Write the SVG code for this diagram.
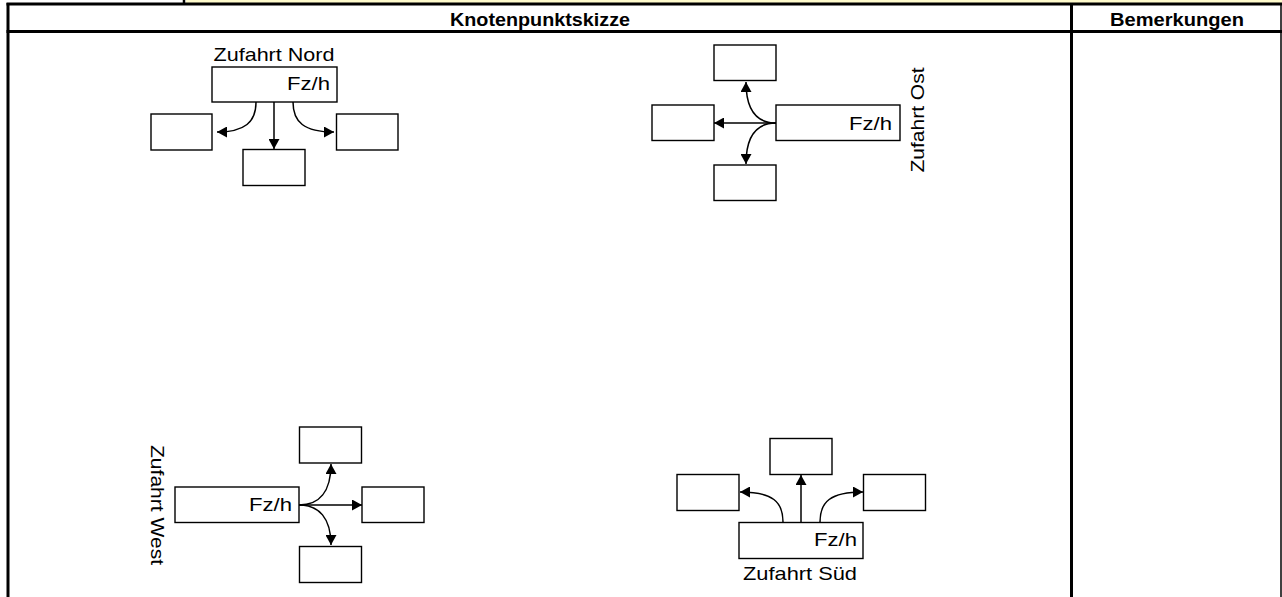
<svg xmlns="http://www.w3.org/2000/svg" width="1282" height="597" viewBox="0 0 1282 597">
<style>
.box{fill:#fff;stroke:#000;stroke-width:1.4}
.grid{stroke:#000;stroke-width:3;fill:none}
.con{fill:none;stroke:#000;stroke-width:1.5}
.t{font-family:"Liberation Sans",Arial,sans-serif;font-size:19px;fill:#000}
.h{font-family:"Liberation Sans",Arial,sans-serif;font-size:18px;font-weight:bold;fill:#000}
</style>
<defs>
<marker id="ah" markerUnits="userSpaceOnUse" markerWidth="10" markerHeight="11" refX="10" refY="5.5" orient="auto">
<path d="M0,0 L10,5.5 L0,11 z" fill="#000"/>
</marker>
</defs>
<rect width="1282" height="597" fill="#fff"/>
<g id="table">
<rect x="186" y="0" width="1096" height="3" fill="#FFFBCC"/>
<line x1="184" y1="0" x2="184" y2="4" stroke="#000" stroke-width="2.5"/>
<line class="grid" x1="6.5" y1="4" x2="1282" y2="4"/>
<line class="grid" x1="6.5" y1="31.5" x2="1282" y2="31.5"/>
<line class="grid" x1="8" y1="3" x2="8" y2="597"/>
<line class="grid" x1="1071.5" y1="3" x2="1071.5" y2="597"/>
<line x1="1281" y1="3" x2="1281" y2="597" stroke="#000" stroke-width="1.5"/>
<text class="h" x="540" y="25.5" text-anchor="middle" textLength="180" lengthAdjust="spacingAndGlyphs">Knotenpunktskizze</text>
<text class="h" x="1177" y="25.5" text-anchor="middle" textLength="134" lengthAdjust="spacingAndGlyphs">Bemerkungen</text>
</g>
<g id="connectors">
<path class="con" d="M274,102 L274,149" marker-end="url(#ah)"/>
<path class="con" d="M256,102 C256,122 245,132 217,132" marker-end="url(#ah)"/>
<path class="con" d="M293,102 C293,122 304,132 334,132" marker-end="url(#ah)"/>
<path class="con" d="M776,123 L714,123" marker-end="url(#ah)"/>
<path class="con" d="M776,123 C756,123 746,110 746,82" marker-end="url(#ah)"/>
<path class="con" d="M776,123 C756,123 746,136 746,164" marker-end="url(#ah)"/>
<path class="con" d="M299,505 L362,505" marker-end="url(#ah)"/>
<path class="con" d="M299,505 C319,505 331,492 331,464" marker-end="url(#ah)"/>
<path class="con" d="M299,505 C319,505 331,518 331,545" marker-end="url(#ah)"/>
<path class="con" d="M801,522 L801,475" marker-end="url(#ah)"/>
<path class="con" d="M783,522 C783,502 773,492 740,492" marker-end="url(#ah)"/>
<path class="con" d="M820,522 C820,502 830,492 863,492" marker-end="url(#ah)"/>
</g>
<g id="nord">
<text class="t" x="274" y="60.5" text-anchor="middle" textLength="121" lengthAdjust="spacingAndGlyphs">Zufahrt Nord</text>
<rect class="box" x="212" y="67" width="125" height="35"/>
<text class="t" x="330" y="90" text-anchor="end" textLength="43" lengthAdjust="spacingAndGlyphs">Fz/h</text>
</g>
<g id="nord-links"><rect class="box" x="151" y="114" width="61" height="36"/></g>
<g id="nord-gerade"><rect class="box" x="243" y="149.5" width="62" height="36"/></g>
<g id="nord-rechts"><rect class="box" x="336.5" y="114" width="61.5" height="36"/></g>
<g id="ost">
<rect class="box" x="776" y="105" width="124" height="35.5"/>
<text class="t" x="892" y="130" text-anchor="end" textLength="43" lengthAdjust="spacingAndGlyphs">Fz/h</text>
<text class="t" transform="translate(924,120) rotate(-90)" text-anchor="middle" textLength="105" lengthAdjust="spacingAndGlyphs">Zufahrt Ost</text>
</g>
<g id="ost-oben"><rect class="box" x="714" y="45" width="62" height="35.5"/></g>
<g id="ost-links"><rect class="box" x="652" y="105" width="62" height="35.5"/></g>
<g id="ost-unten"><rect class="box" x="714" y="165" width="62" height="35.5"/></g>
<g id="west">
<rect class="box" x="175" y="487" width="124" height="35.5"/>
<text class="t" x="292" y="511" text-anchor="end" textLength="43" lengthAdjust="spacingAndGlyphs">Fz/h</text>
<text class="t" transform="translate(151,505) rotate(90)" text-anchor="middle" textLength="120" lengthAdjust="spacingAndGlyphs">Zufahrt West</text>
</g>
<g id="west-oben"><rect class="box" x="299.5" y="427" width="62" height="36"/></g>
<g id="west-rechts"><rect class="box" x="362" y="487" width="62" height="35.5"/></g>
<g id="west-unten"><rect class="box" x="299.5" y="546.5" width="62" height="36"/></g>
<g id="sued">
<rect class="box" x="739" y="522.5" width="124" height="36"/>
<text class="t" x="857" y="546" text-anchor="end" textLength="43" lengthAdjust="spacingAndGlyphs">Fz/h</text>
<text class="t" x="800" y="580" text-anchor="middle" textLength="114" lengthAdjust="spacingAndGlyphs">Zufahrt Süd</text>
</g>
<g id="sued-oben"><rect class="box" x="770" y="438.5" width="62" height="36"/></g>
<g id="sued-links"><rect class="box" x="677" y="474.5" width="62" height="36"/></g>
<g id="sued-rechts"><rect class="box" x="863.5" y="474.5" width="62" height="36"/></g>
</svg>
